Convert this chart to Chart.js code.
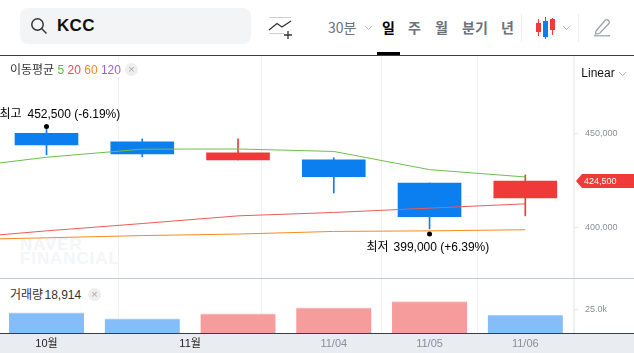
<!DOCTYPE html>
<html lang="ko">
<head>
<meta charset="utf-8">
<title>KCC</title>
<script src="https://cdn.jsdelivr.net/npm/chart.js@4/dist/chart.umd.min.js"></script>
<style>
  html, body { margin: 0; padding: 0; background: #fff; }
  body { width: 634px; height: 353px; position: relative; overflow: hidden; font-family: "Liberation Sans", "Noto Sans CJK KR", sans-serif; color: #222; }
  .abs { position: absolute; white-space: nowrap; line-height: 1; }
  #search { left: 20px; top: 8px; width: 231px; height: 36px; background: #f3f4f6; border-radius: 8px; }
  #code { left: 57px; top: 17px; font-size: 17px; font-weight: 700; color: #111; letter-spacing: 0.3px; }
  .menu { top: 20px; font-size: 14px; color: #6b727b; font-weight: 700; font-family: "Noto Sans CJK KR", sans-serif; }
  #topline { left: 0; top: 55px; width: 634px; height: 1px; background: #3a3d42; }
  #active { left: 377px; top: 52px; width: 23px; height: 3px; background: #000; }
  .sep { top: 14px; width: 1px; height: 28px; background: #eceef0; }
  #band { left: 0; top: 333px; width: 634px; height: 20px; background: #e9ecf1; }
  #mark { left: 20px; top: 238px; font-size: 17px; line-height: 14px; font-weight: 700; color: #f4f5f7; white-space: normal; width: 110px; letter-spacing: 0.9px; }
  canvas { position: absolute; left: 0; top: 55px; }
  .legend { font-size: 12px; background: #fff; color: #333; padding: 0 2px; }
  .close { width: 13px; height: 13px; border-radius: 50%; background: #eeeeee; color: #aaa; font-size: 11px; line-height: 13px; text-align: center; }
</style>
</head>
<body>
<div class="abs" id="band"></div>
<div class="abs" id="mark">NAVER FINANCIAL</div>
<canvas id="chart" width="634" height="298"></canvas>

<div class="abs" id="search"></div>
<svg class="abs" style="left:30px;top:17px" width="18" height="18" viewBox="0 0 18 18" fill="none" stroke="#333" stroke-width="1.5"><circle cx="7.5" cy="7.5" r="5.7"/><path d="M11.8 11.8L16.5 16.5"/></svg>
<div class="abs" id="code">KCC</div>
<svg class="abs" style="left:268px;top:16px" width="26" height="24" viewBox="0 0 26 24" fill="none"><path d="M1 1.5H23M1 17.5H16" stroke="#cfcfcf"/><path d="M1 14L9 7.5L14 11L23 5" stroke="#333" stroke-width="1.3"/><path d="M20 15V23M16 19H24" stroke="#333" stroke-width="1.3"/></svg>
<div class="abs menu" style="left:328px;font-weight:400">30분</div>
<svg class="abs" style="left:364px;top:25px" width="9" height="6" fill="none" stroke="#b5b8bd"><path d="M1 1L4.5 4.5L8 1"/></svg>
<div class="abs menu" style="left:382px;color:#000">일</div>
<div class="abs menu" style="left:408px">주</div>
<div class="abs menu" style="left:435px">월</div>
<div class="abs menu" style="left:462px">분기</div>
<div class="abs menu" style="left:501px">년</div>
<div class="abs sep" style="left:521px"></div>
<div class="abs sep" style="left:578px"></div>
<div class="abs" id="active"></div>
<div class="abs" id="topline"></div>
<svg class="abs" style="left:535px;top:16px" width="24" height="24"><path d="M3.5 3V20M17.500 2V19" stroke="#f03a3a"/><path d="M10.500 1V23" stroke="#0b7ff0"/><rect x="1" y="7" width="5" height="9" fill="#f03a3a"/><rect x="8" y="5" width="5" height="16" fill="#0b7ff0"/><rect x="15" y="3" width="5" height="11" fill="#f03a3a"/></svg>
<svg class="abs" style="left:562px;top:25px" width="9" height="6" fill="none" stroke="#b5b8bd"><path d="M1 1L4.500 4.500L8 1"/></svg>
<svg class="abs" style="left:594px;top:18px" width="18" height="19" fill="none" stroke="#9a9ea5" stroke-width="1.200"><path d="M2 13L11 2.500C12 1.500 13.500 1.500 14.500 2.500C15.500 3.500 15.500 5 14.500 6L5.500 15.500L1.500 16Z"/><path d="M0 17.800H16" /></svg>

<div class="abs legend" style="left:8px;top:63px;height:14px;line-height:14px;width:109px">이동평균 <span style="color:#5cb83c">5</span> <span style="color:#f04848">20</span> <span style="color:#f5871f">60</span> <span style="color:#a05fd0">120</span></div>
<div class="abs close" style="left:125px;top:63px">×</div>
<div class="abs legend" style="left:576px;top:62px;width:56px;height:20px;line-height:22px;color:#111;font-size:12px">&nbsp;Linear</div>
<svg class="abs" style="left:618px;top:71px" width="9" height="6" fill="none" stroke="#b5b8bd"><path d="M1 1L4.500 4.500L8 1"/></svg>
<div class="abs legend" style="left:8px;top:288px;height:14px;line-height:14px;width:73px;word-spacing:-2px">거래량 18,914</div>
<div class="abs close" style="left:88px;top:288px">×</div>

<script>
// 인덱스 -1 은 화면 왼쪽 밖의 점 (이평선이 왼쪽 끝까지 이어지도록)
const candle_x = [0, 1, 2, 3, 4, 5];
const ma_x = [-1, 0, 1, 2, 3, 4, 5];

const open_values = [450000, 439000, 435800, 426800, 405500, 415500];
const close_values = [443800, 445400, 439500, 435800, 423500, 424500];
const high_values = [452500, 447000, 447000, 436900, 423500, 427800];
const low_values = [438500, 437400, 435800, 418200, 399000, 406000];
const candle_up = [true, true, false, true, true, false]; // 파랑 true, 빨강 false

const ma5 = [431000, 437200, 441500, 441600, 440300, 430600, 426700];
const ma20 = [393700, 398000, 401900, 406000, 407800, 410100, 412400];
const ma60 = [393200, 394300, 395500, 396300, 397700, 398000, 398600];

const volumes = [21500, 15100, 20400, 26800, 33200, 18914];
const volume_blue = [true, true, false, false, false, true];

const x_tick_positions = [0, 1.5, 3, 4, 5];
const x_tick_labels = ["10월", "11월", "11/04", "11/05", "11/06"];
const price_ticks = [400000, 450000];
const volume_ticks = [25000];

const last_price = 424500;
const high_label = ["최고", "452,500 (-6.19%)"];
const low_label = ["최저", "399,000 (+6.39%)"];

const BLUE = "#0b7ff0";
const RED = "#f03a3a";

function ma_dataset(values, color) {
  return {
    type: "line",
    data: values.map((v, i) => ({ x: ma_x[i], y: v })),
    borderColor: color,
    borderWidth: 1,
    pointRadius: 0,
    tension: 0,
    yAxisID: "y",
    order: 1,
  };
}

// el eje no debe reservar margen para la mitad de sus etiquetas
function sin_margen(scale) {
  scale.paddingTop = 0;
  scale.paddingBottom = 0;
  scale.paddingLeft = 0;
  scale.paddingRight = 0;
}

const plugin_marcas = {
  id: "marcas",
  afterDatasetsDraw(chart) {
    const c = chart.ctx;
    const x = chart.scales.x;
    const y = chart.scales.y;
    c.save();

    // 최고 / 최저
    const hx = x.getPixelForValue(0);
    const hy = y.getPixelForValue(high_values[0]);
    const lx = x.getPixelForValue(4);
    const ly = y.getPixelForValue(low_values[4]);
    c.fillStyle = "#000";
    c.beginPath();
    c.arc(hx, hy - 2, 2.5, 0, Math.PI * 2);
    c.arc(lx, ly + 5, 2.5, 0, Math.PI * 2);
    c.fill();
    c.font = '12px "Liberation Sans", "Noto Sans CJK KR", sans-serif';
    c.textBaseline = "middle";
    c.textAlign = "left";
    c.fillText(high_label[0], hx - 47, hy - 14);
    c.fillText(high_label[1], hx - 19, hy - 14);
    c.fillText(low_label[0], lx - 63, ly + 19);
    c.fillText(low_label[1], lx - 36, ly + 19);

    // 패널 구분선, 축 선
    const panel = chart.scales.yVol.top;
    const base = chart.scales.yVol.bottom;
    c.fillStyle = "#c5cad0";
    c.fillRect(0, Math.round(panel), chart.width, 1);
    c.fillStyle = "#3a3d42";
    c.fillRect(0, Math.round(base), chart.width, 1);

    // 현재가
    const py = y.getPixelForValue(last_price);
    const px = chart.chartArea.right + 2;
    c.fillStyle = RED;
    c.beginPath();
    c.moveTo(px, py);
    c.lineTo(px + 6, py - 7);
    c.lineTo(chart.width, py - 7);
    c.lineTo(chart.width, py + 7);
    c.lineTo(px + 6, py + 7);
    c.closePath();
    c.fill();
    c.fillStyle = "#fff";
    c.font = '9px "Liberation Sans", sans-serif';
    c.fillText(last_price.toLocaleString("en-US"), px + 8, py);
    c.restore();
  },
};

const ctx = document.getElementById("chart").getContext("2d");
new Chart(ctx, {
  data: {
    datasets: [
      ma_dataset(ma5, "#6cbf4b"),
      ma_dataset(ma20, "#ee5a5a"),
      ma_dataset(ma60, "#f58a1f"),
      {
        type: "bar",
        data: candle_x.map((x, i) => ({ x: x, y: [open_values[i], close_values[i]] })),
        backgroundColor: candle_up.map((b) => (b ? BLUE : RED)),
        barThickness: 63,
        grouped: false,
        yAxisID: "y",
        order: 2,
      },
      {
        type: "bar",
        data: candle_x.map((x, i) => ({ x: x, y: [low_values[i], high_values[i]] })),
        backgroundColor: candle_up.map((b) => (b ? BLUE : RED)),
        barThickness: 1,
        grouped: false,
        yAxisID: "y",
        order: 3,
      },
      {
        type: "bar",
        data: candle_x.map((x, i) => ({ x: x, y: volumes[i] })),
        backgroundColor: volume_blue.map((b) => (b ? "#85bdf8" : "#f69c9c")),
        borderColor: volume_blue.map((b) => (b ? "#b9d7f8" : "#f8c8c8")),
        borderWidth: { top: 1 },
        borderSkipped: false,
        barThickness: 75,
        grouped: false,
        yAxisID: "yVol",
        order: 4,
      },
    ],
  },
  options: {
    responsive: false,
    animation: false,
    events: [],
    layout: { padding: 0 },
    plugins: { legend: { display: false }, tooltip: { enabled: false } },
    scales: {
      x: {
        type: "linear",
        offset: false,
        min: -0.4856,
        max: 5.5086,
        afterBuildTicks: (scale) => {
          scale.ticks = x_tick_positions.map((v) => ({ value: v }));
        },
        afterFit: (scale) => {
          scale.height = 20;
          sin_margen(scale);
        },
        grid: { color: "#f0f1f3", drawTicks: false },
        border: { display: false },
        ticks: {
          autoSkip: false,
          maxRotation: 0,
          padding: 4,
          font: { size: 11, family: '"Liberation Sans", "Noto Sans CJK KR", sans-serif' },
          color: (c) => (c.index < 2 ? "#222" : "#8a8f98"),
          callback: (value) => x_tick_labels[x_tick_positions.indexOf(value)],
        },
      },
      y: {
        position: "right",
        stack: "paneles",
        stackWeight: 223.3,
        min: 372872,
        max: 491649,
        afterBuildTicks: (scale) => {
          scale.ticks = price_ticks.map((v) => ({ value: v }));
        },
        afterFit: (scale) => {
          scale.width = 60;
          sin_margen(scale);
        },
        grid: { drawOnChartArea: false, tickLength: 4, tickColor: "#e4e6e9" },
        border: { color: "#eceef0" },
        ticks: {
          autoSkip: false,
          padding: 7,
          font: { size: 9, family: '"Liberation Sans", sans-serif' },
          color: "#8a8f98",
          callback: (value) => value.toLocaleString("en-US"),
        },
      },
      yVol: {
        position: "right",
        stack: "paneles",
        stackWeight: 55,
        min: 0,
        max: 58263,
        afterBuildTicks: (scale) => {
          scale.ticks = volume_ticks.map((v) => ({ value: v }));
        },
        afterFit: (scale) => {
          scale.width = 60;
          sin_margen(scale);
        },
        grid: { drawOnChartArea: false, tickLength: 4, tickColor: "#e4e6e9" },
        border: { color: "#eceef0" },
        ticks: {
          autoSkip: false,
          padding: 7,
          font: { size: 9, family: '"Liberation Sans", sans-serif' },
          color: "#8a8f98",
          callback: (value) => (value / 1000).toFixed(1) + "k",
        },
      },
    },
  },
  plugins: [plugin_marcas],
});
</script>
</body>
</html>
